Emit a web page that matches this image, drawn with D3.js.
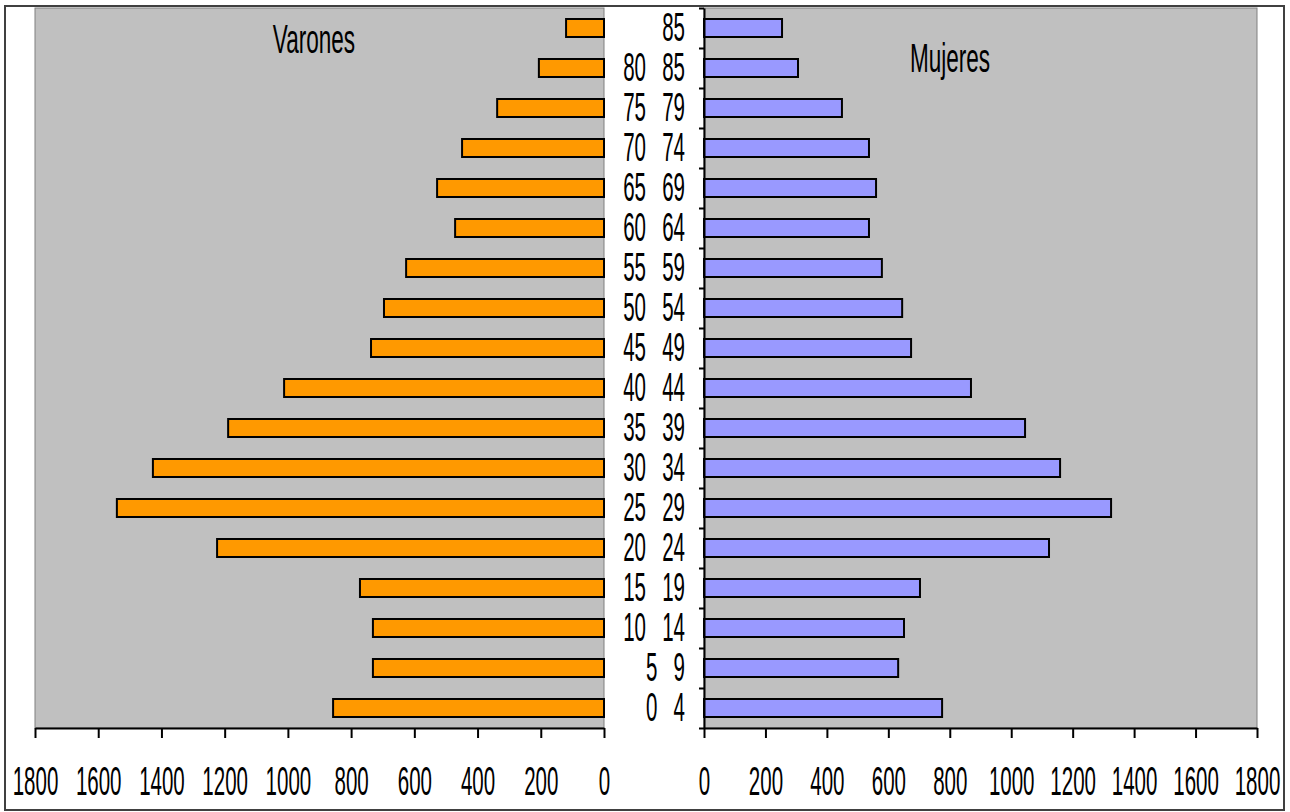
<!DOCTYPE html>
<html>
<head>
<meta charset="utf-8">
<script src="https://cdn.jsdelivr.net/npm/d3@7"></script>
<style>
  body { margin: 0; background: #fff; }
  svg text { font-family: "Liberation Sans", Arial, sans-serif; fill: #000; }
</style>
</head>
<body>
<div id="chart"></div>
<script>
// grupos de edad, de abajo hacia arriba
var ageGroups = ["0 4", "5 9", "10 14", "15 19", "20 24", "25 29", "30 34", "35 39", "40 44",
                 "45 49", "50 54", "55 59", "60 64", "65 69", "70 74", "75 79", "80 85", "85"];
var varones = [857, 731, 731, 772, 1224, 1541, 1427, 1189, 1012, 737, 696, 626, 471, 528, 449, 338, 206, 120];
var mujeres = [775, 632, 651, 703, 1123, 1325, 1159, 1045, 869, 674, 645, 579, 537, 560, 537, 449, 306, 254];
var tickValues = [0, 200, 400, 600, 800, 1000, 1200, 1400, 1600, 1800];

var width = 1290, height = 812;
var plotTop = 8, plotBottom = 728;
var sx = 0.5, fontSize = 41;

var svg = d3.select("#chart")
    .append("svg")
    .attr("width", width)
    .attr("height", height);

svg.append("rect")
    .attr("x", 5).attr("y", 6)
    .attr("width", 1279).attr("height", 804)
    .attr("fill", "#fff")
    .attr("stroke", "#404040")
    .attr("stroke-width", 2);

var xLeft = d3.scaleLinear().domain([0, 1800]).range([604, 35]);
var xRight = d3.scaleLinear().domain([0, 1800]).range([704, 1257]);
var y = d3.scaleBand().domain(ageGroups).range([plotBottom, plotTop]).paddingInner(0.55).paddingOuter(0.275);
var yEdge = d3.scaleLinear().domain([0, ageGroups.length]).range([plotBottom, plotTop]);

// fondos grises
svg.append("rect")
    .attr("x", xLeft(1800)).attr("y", plotTop)
    .attr("width", xLeft(0) - xLeft(1800)).attr("height", plotBottom - plotTop)
    .attr("fill", "#c0c0c0").attr("stroke", "#808080").attr("stroke-width", 1);
svg.append("rect")
    .attr("x", xRight(0)).attr("y", plotTop)
    .attr("width", xRight(1800) - xRight(0)).attr("height", plotBottom - plotTop)
    .attr("fill", "#c0c0c0").attr("stroke", "#808080").attr("stroke-width", 1);

// barras
svg.selectAll(".bar-v")
    .data(varones)
    .enter().append("rect")
    .attr("class", "bar-v")
    .attr("x", function(d) { return xLeft(d); })
    .attr("y", function(d, i) { return y(ageGroups[i]); })
    .attr("width", function(d) { return xLeft(0) - xLeft(d); })
    .attr("height", y.bandwidth())
    .attr("fill", "#ff9900")
    .attr("stroke", "#000")
    .attr("stroke-width", 2);

svg.selectAll(".bar-m")
    .data(mujeres)
    .enter().append("rect")
    .attr("class", "bar-m")
    .attr("x", xRight(0))
    .attr("y", function(d, i) { return y(ageGroups[i]); })
    .attr("width", function(d) { return xRight(d) - xRight(0); })
    .attr("height", y.bandwidth())
    .attr("fill", "#9999ff")
    .attr("stroke", "#000")
    .attr("stroke-width", 2);

// ejes inferiores
function styleAxis(g) {
    g.select(".domain").attr("stroke", "#000").attr("stroke-width", 2);
    g.selectAll(".tick line").attr("stroke", "#000").attr("stroke-width", 2);
    g.selectAll(".tick text")
        .attr("y", 67).attr("dy", 0)
        .attr("font-size", fontSize)
        .attr("font-family", "Liberation Sans, Arial, sans-serif")
        .attr("fill", "#000")
        .attr("transform", "scale(" + sx + ",1)");
}

svg.append("g")
    .attr("transform", "translate(0," + plotBottom + ")")
    .call(d3.axisBottom(xLeft).tickValues(tickValues).tickSize(10).tickSizeOuter(0).tickFormat(d3.format("d")))
    .call(styleAxis);

svg.append("g")
    .attr("transform", "translate(0," + plotBottom + ")")
    .call(d3.axisBottom(xRight).tickValues(tickValues).tickSize(10).tickSizeOuter(0).tickFormat(d3.format("d")))
    .call(styleAxis);

// eje vertical con marcas entre grupos
var yAxis = svg.append("g")
    .attr("transform", "translate(" + xRight(0) + ",0)")
    .call(d3.axisLeft(yEdge).tickValues(d3.range(0, ageGroups.length + 1)).tickSize(5).tickSizeOuter(0).tickFormat(""));
yAxis.select(".domain").attr("stroke", "#000").attr("stroke-width", 2);
yAxis.selectAll(".tick line").attr("stroke", "#000").attr("stroke-width", 2);

// etiquetas de edad
svg.selectAll(".age")
    .data(ageGroups)
    .enter().append("text")
    .attr("class", "age")
    .attr("transform", function(d) { return "translate(685," + (y(d) + y.bandwidth() / 2 + 13) + ") scale(" + sx + ",1)"; })
    .attr("text-anchor", "end")
    .attr("font-size", fontSize)
    .attr("word-spacing", 21)
    .text(function(d) { return d; });

// títulos
svg.append("text")
    .attr("transform", "translate(314,53) scale(0.55,1)")
    .attr("text-anchor", "middle")
    .attr("font-size", fontSize)
    .text("Varones");

svg.append("text")
    .attr("transform", "translate(950,72) scale(0.55,1)")
    .attr("text-anchor", "middle")
    .attr("font-size", fontSize)
    .text("Mujeres");
</script>
</body>
</html>
